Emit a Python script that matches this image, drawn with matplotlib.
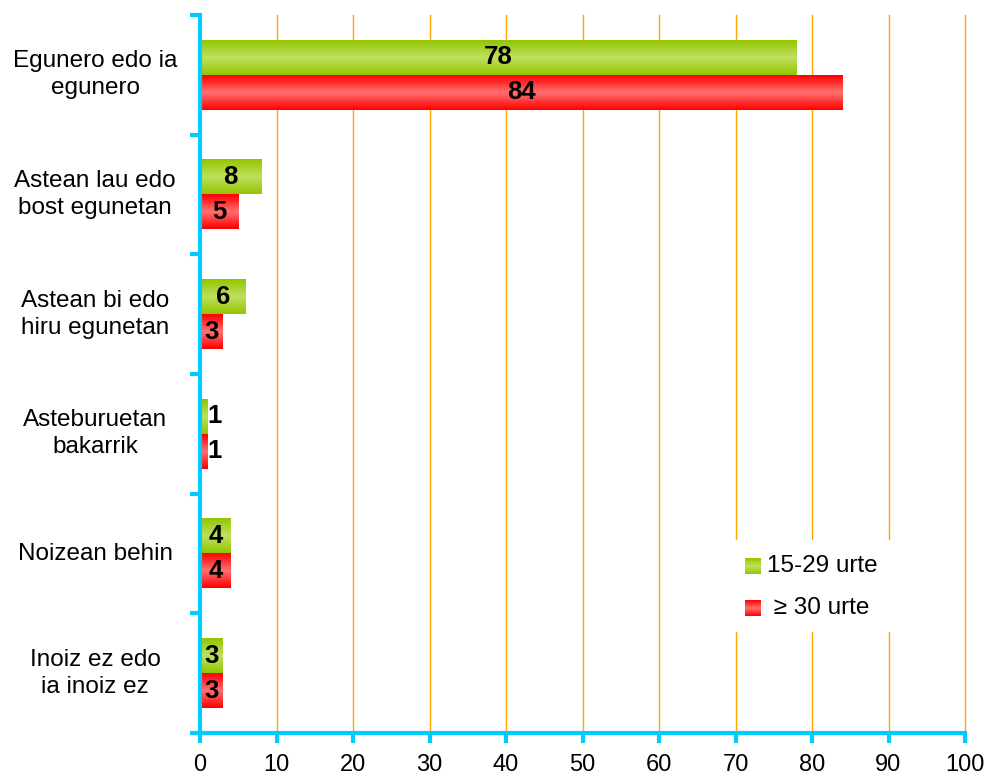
import matplotlib
matplotlib.use("Agg")
import matplotlib.pyplot as plt
import numpy as np
from matplotlib.colors import LinearSegmentedColormap
from matplotlib.patches import Rectangle

categories = ["Egunero edo ia\negunero", "Astean lau edo\nbost egunetan", "Astean bi edo\nhiru egunetan",
              "Asteburuetan\nbakarrik", "Noizean behin", "Inoiz ez edo\nia inoiz ez"]
young = [78, 8, 6, 1, 4, 3]
older = [84, 5, 3, 1, 4, 3]
series_names = ["15-29 urte", " \u2265 30 urte"]
xticks = list(range(0, 101, 10))

plt.rcParams['font.family'] = ['Liberation Sans', 'DejaVu Sans']

fig = plt.figure(figsize=(9.89, 7.79), dpi=100)
W, H = 989, 779
ax = fig.add_axes([200 / W, 46 / H, 765 / W, 718 / H])

n = len(categories)

cyan = "#00CCFF"
orange = "#FFA500"
for x in xticks[1:]:
    ax.axvline(x, color=orange, lw=1.0, zorder=0, clip_on=False)

green_cm = LinearSegmentedColormap.from_list("g", [(0, "#93C600"), (0.5, "#C0E060"), (1, "#93C600")])
red_cm = LinearSegmentedColormap.from_list("r", [(0, "#FF0000"), (0.5, "#FF7070"), (1, "#FF0000")])
grad = np.linspace(0, 1, 64).reshape(-1, 1)

bh = 0.29

def gbar(y0, w, cmap):
    ax.imshow(grad, extent=(0, w, y0 + bh, y0), aspect='auto', cmap=cmap, zorder=2, interpolation='bilinear')

for i in range(n):
    yc = i + 0.5
    gbar(yc - bh, young[i], green_cm)
    gbar(yc, older[i], red_cm)
    for val, yy in ((young[i], yc - bh / 2), (older[i], yc + bh / 2)):
        xt = val / 2 if val >= 2 else val + 0.85
        ax.text(xt, yy, str(val), ha='center', va='center', fontsize=18.5, fontweight='bold', zorder=3)

ax.set_xlim(0, 100)
ax.set_ylim(n, 0)

for s in ['top', 'right']:
    ax.spines[s].set_visible(False)
for s in ['left', 'bottom']:
    ax.spines[s].set_color(cyan)
    ax.spines[s].set_linewidth(3)

ax.set_xticks(xticks)
ax.tick_params(axis='x', colors=cyan, length=7, width=3, labelsize=17, labelcolor='black', pad=8)
ax.set_yticks(range(0, n + 1))
ax.set_yticklabels([])
ax.tick_params(axis='y', colors=cyan, length=7, width=3)

for i, c in enumerate(categories):
    ydisp = ax.transData.transform((0, i + 0.5))[1]
    fig.text(95 / W, ydisp / H, c, ha='center', va='center', fontsize=17.5, linespacing=1.3)

# legend
fig.patches.append(Rectangle((732 / W, (779 - 632) / H), 165 / W, 92 / H, transform=fig.transFigure,
                             facecolor='white', edgecolor='none', zorder=5))
sq = 16
for k, (name, cm) in enumerate(zip(series_names, [green_cm, red_cm])):
    ycen = 566 + 42 * k
    ax_sq = fig.add_axes([745 / W, (779 - ycen - sq / 2) / H, sq / W, sq / H])
    ax_sq.imshow(grad, aspect='auto', cmap=cm, interpolation='bilinear')
    ax_sq.axis('off')
    ax_sq.set_zorder(7)
    fig.text(767 / W, (779 - ycen) / H, name, fontsize=17.5, va='center', ha='left', zorder=6)

fig.savefig("out.png", dpi=100, facecolor='white')
